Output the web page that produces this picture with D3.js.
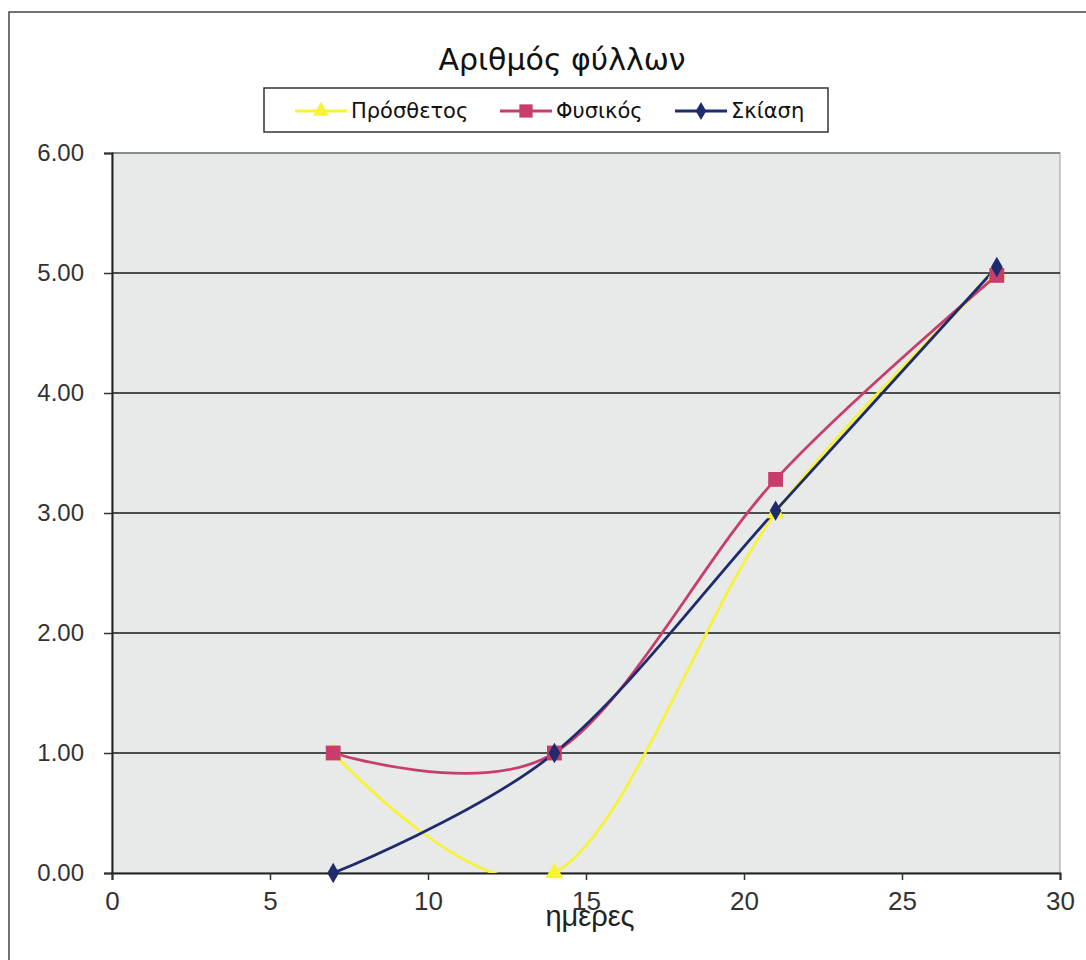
<!DOCTYPE html>
<html>
<head>
<meta charset="utf-8">
<script src="https://cdn.jsdelivr.net/npm/d3@7"></script>
<style>
  body { margin: 0; background: #fff; }
  text { font-family: "Liberation Sans", Arial, sans-serif; }
</style>
</head>
<body>
<div id="chart"></div>
<script>
// days of measurement
const days = [7, 14, 21, 28];
// number of leaves per treatment
const prosthetos = [1.00, 0.00, 3.00, 5.00];
const fysikos = [1.00, 1.00, 3.28, 4.98];
const skiasi = [0.00, 1.00, 3.02, 5.05];

const seriesNames = ["Πρόσθετος", "Φυσικός", "Σκίαση"];
const xTicks = [0, 5, 10, 15, 20, 25, 30];
const yTicks = [0, 1, 2, 3, 4, 5, 6];

const W = 1086, H = 960;
const plot = { left: 112, right: 1060, top: 153, bottom: 873 };

const colors = ["#f7f23a", "#c93d6c", "#1e2b6c"];
const shapes = [d3.symbolTriangle, d3.symbolSquare, d3.symbolDiamond];
const sizes = [140, 220, 120];

const series = [prosthetos, fysikos, skiasi].map((vals, i) => ({
  name: seriesNames[i],
  points: days.map((d, j) => ({ x: d, y: vals[j] }))
}));

const svg = d3.select("#chart").append("svg")
  .attr("width", W)
  .attr("height", H);

// outer chart border
svg.append("rect")
  .attr("x", 9).attr("y", 12)
  .attr("width", W + 20).attr("height", H + 20)
  .attr("fill", "none")
  .attr("stroke", "#444")
  .attr("stroke-width", 1.5);

const x = d3.scaleLinear().domain([0, 30]).range([plot.left, plot.right]);
const y = d3.scaleLinear().domain([0, 6]).range([plot.bottom, plot.top]);

// plot background
svg.append("rect")
  .attr("x", plot.left).attr("y", plot.top)
  .attr("width", plot.right - plot.left)
  .attr("height", plot.bottom - plot.top)
  .attr("fill", "#e7eae9")
  .attr("stroke", "#999")
  .attr("stroke-width", 1);

// horizontal gridlines
svg.append("g")
  .selectAll("line")
  .data(yTicks.filter(t => t > 0))
  .enter().append("line")
  .attr("x1", plot.left).attr("x2", plot.right)
  .attr("y1", d => y(d)).attr("y2", d => y(d))
  .attr("stroke", d => d === 6 ? "#777" : "#1a1a1a")
  .attr("stroke-width", 1.5);

// axes
const yAxis = d3.axisLeft(y).tickValues(yTicks)
  .tickFormat(d3.format(".2f")).tickSize(8).tickPadding(20);
const xAxis = d3.axisBottom(x).tickValues(xTicks)
  .tickSize(7).tickPadding(12);

const gy = svg.append("g")
  .attr("transform", `translate(${plot.left},0)`)
  .call(yAxis);
const gx = svg.append("g")
  .attr("transform", `translate(0,${plot.bottom})`)
  .call(xAxis);

[gx, gy].forEach(g => {
  g.select(".domain").attr("stroke", "#222").attr("stroke-width", 2);
  g.selectAll(".tick line").attr("stroke", "#333").attr("stroke-width", 1.5);
  g.selectAll(".tick text")
    .attr("fill", "#333")
    .style("font-family", "'Liberation Sans', Arial, sans-serif");
});
gy.selectAll(".tick text").style("font-size", "24px");
gx.selectAll(".tick text").style("font-size", "26px");

// clip lines to plot area
svg.append("clipPath").attr("id", "plotclip")
  .append("rect")
  .attr("x", plot.left).attr("y", plot.top)
  .attr("width", plot.right - plot.left)
  .attr("height", plot.bottom - plot.top);

const line = d3.line()
  .x(d => x(d.x))
  .y(d => y(d.y))
  .curve(d3.curveCardinal.tension(0));

const lines = svg.append("g").attr("clip-path", "url(#plotclip)");
series.forEach((s, i) => {
  lines.append("path")
    .datum(s.points)
    .attr("d", line)
    .attr("fill", "none")
    .attr("stroke", colors[i])
    .attr("stroke-width", 2.8);
});

series.forEach((s, i) => {
  svg.append("g").selectAll("path")
    .data(s.points)
    .enter().append("path")
    .attr("transform", d => `translate(${x(d.x)},${y(d.y)})`)
    .attr("d", d3.symbol().type(shapes[i]).size(sizes[i]))
    .attr("fill", colors[i]);
});

// title
svg.append("text")
  .attr("x", 562).attr("y", 70)
  .attr("text-anchor", "middle")
  .style("font-family", "'DejaVu Sans', sans-serif")
  .style("font-size", "30px")
  .attr("fill", "#111")
  .text("Αριθμός φύλλων");

// x axis label
svg.append("text")
  .attr("x", 590).attr("y", 926)
  .attr("text-anchor", "middle")
  .style("font-size", "29px")
  .attr("fill", "#222")
  .text("ημερες");

// legend
const legend = svg.append("g");
legend.append("rect")
  .attr("x", 264).attr("y", 88)
  .attr("width", 564).attr("height", 44)
  .attr("fill", "#fff")
  .attr("stroke", "#333")
  .attr("stroke-width", 1.5);

const legendX = [295, 500, 675];
const item = legend.selectAll(".legend")
  .data(series)
  .enter().append("g")
  .attr("class", "legend")
  .attr("transform", (d, i) => `translate(${legendX[i]},111)`);

item.append("line")
  .attr("x1", 0).attr("x2", 52)
  .attr("stroke", (d, i) => colors[i])
  .attr("stroke-width", 2.8);
item.append("path")
  .attr("transform", "translate(26,0)")
  .attr("d", (d, i) => d3.symbol().type(shapes[i]).size(sizes[i] * 0.8)())
  .attr("fill", (d, i) => colors[i]);
item.append("text")
  .attr("x", 56)
  .attr("dy", "0.35em")
  .style("font-family", "'DejaVu Sans', sans-serif")
  .style("font-size", "21px")
  .attr("fill", "#111")
  .text(d => d.name);
</script>
</body>
</html>
